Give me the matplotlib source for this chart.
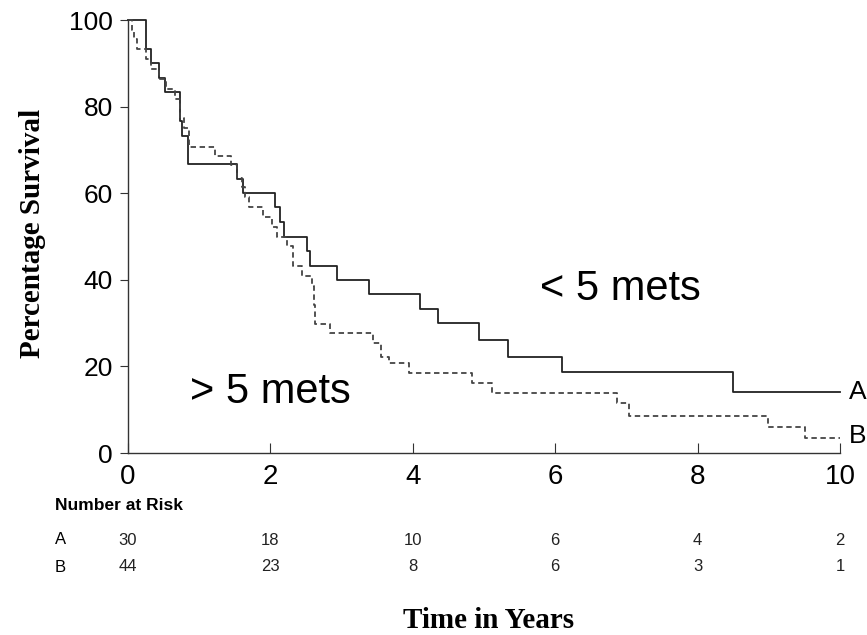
import numpy as np
import matplotlib
matplotlib.use('Agg')
import matplotlib.pyplot as plt

# Kaplan-Meier steps (years, % surviving)
t_a = [0, 0.26, 0.33, 0.43, 0.52, 0.73, 0.76, 0.85, 1.53, 1.62, 2.07, 2.13, 2.19,
       2.52, 2.56, 2.94, 3.39, 4.10, 4.36, 4.93, 5.33, 6.10, 8.49, 10.0]
s_a = [100, 93.3, 90, 86.7, 83.3, 76.7, 73.3, 66.7, 63.3, 60, 56.7, 53.3, 50,
       46.7, 43.3, 40, 36.7, 33.3, 30, 26.1, 22.2, 18.7, 14.1, 14.1]

t_b = [0, 0.05, 0.08, 0.12, 0.26, 0.33, 0.43, 0.54, 0.66, 0.73, 0.78, 0.86, 1.22,
       1.45, 1.53, 1.60, 1.65, 1.70, 1.90, 2.02, 2.09, 2.23, 2.32, 2.44, 2.58,
       2.61, 2.63, 2.84, 3.44, 3.56, 3.66, 3.95, 4.83, 5.11, 6.87, 7.03, 8.99,
       9.51, 10.0]
s_b = [100, 97.7, 95.5, 93.2, 91.0, 88.7, 86.4, 84.1, 81.8, 77.3, 75.0, 70.7, 68.5,
       66.4, 63.6, 61.4, 59.1, 56.8, 54.5, 52.3, 50.0, 47.7, 43.2, 40.9, 38.6,
       34.1, 29.8, 27.6, 25.3, 22.2, 20.8, 18.4, 16.2, 13.9, 11.5, 8.5, 5.9,
       3.4, 3.4]

risk_times = [0, 2, 4, 6, 8, 10]
risk_a = [30, 18, 10, 6, 4, 2]
risk_b = [44, 23, 8, 6, 3, 1]

sans = 'Liberation Sans'
serif = 'Liberation Serif'

fig = plt.figure(figsize=(8.67, 6.35), dpi=100)
ax = fig.add_axes([0.1476, 0.2866, 0.8213, 0.6819])

ax.plot(t_a, s_a, drawstyle='steps-post', color='#222222', lw=1.3, clip_on=False)
ax.plot(t_b, s_b, drawstyle='steps-post', color='#444444', lw=1.3,
        linestyle=(0, (3, 2)), clip_on=False)

ax.set_xlim(0, 10)
ax.set_ylim(0, 100)
ax.set_xticks(risk_times)
ax.set_yticks([0, 20, 40, 60, 80, 100])
for s in ['top', 'right']:
    ax.spines[s].set_visible(False)
for s in ['left', 'bottom']:
    ax.spines[s].set_color('#333333')
    ax.spines[s].set_linewidth(1.0)
ax.tick_params(axis='x', direction='in', length=7, pad=8, labelsize=20,
               color='#333333')
ax.tick_params(axis='y', direction='out', length=6, pad=5, labelsize=19,
               color='#333333')
for lab in ax.get_xticklabels() + ax.get_yticklabels():
    lab.set_fontfamily(sans)

# curve end labels and group annotations
ax.text(10.13, s_a[-1], 'A', fontsize=19, family=sans, va='center', ha='left',
        clip_on=False)
ax.text(10.13, s_b[-1] + 0.5, 'B', fontsize=19, family=sans, va='center',
        ha='left', clip_on=False)
ax.text(5.79, 37.9, '< 5 mets', fontsize=30, family=sans, va='center', ha='left')
ax.text(0.87, 14.1, '> 5 mets', fontsize=30, family=sans, va='center', ha='left')

# number at risk table
tr = ax.get_xaxis_transform()
fig.text(0.0634, 1 - 505 / 635, 'Number at Risk', fontsize=12.5, family=sans,
         fontweight='bold', va='center', ha='left')
fig.text(0.0634, 1 - 540 / 635, 'A', fontsize=12, family=sans, va='center', ha='left')
fig.text(0.0634, 1 - 567 / 635, 'B', fontsize=12, family=sans, va='center', ha='left')
for x, a, b in zip(risk_times, risk_a, risk_b):
    ax.text(x, -0.201, str(a), fontsize=12, family=sans, transform=tr,
            va='center', ha='center', clip_on=False, color='#222222')
    ax.text(x, -0.263, str(b), fontsize=12, family=sans, transform=tr,
            va='center', ha='center', clip_on=False, color='#222222')

fig.text(0.563, 1 - 620 / 635, 'Time in Years', fontsize=21, family=serif,
         fontweight='bold', va='center', ha='center')
fig.text(0.038, 1 - 233 / 635, 'Percentage Survival', fontsize=21, family=serif,
         fontweight='bold', va='center', ha='center', rotation=90)

fig.savefig('out.png', dpi=100)
